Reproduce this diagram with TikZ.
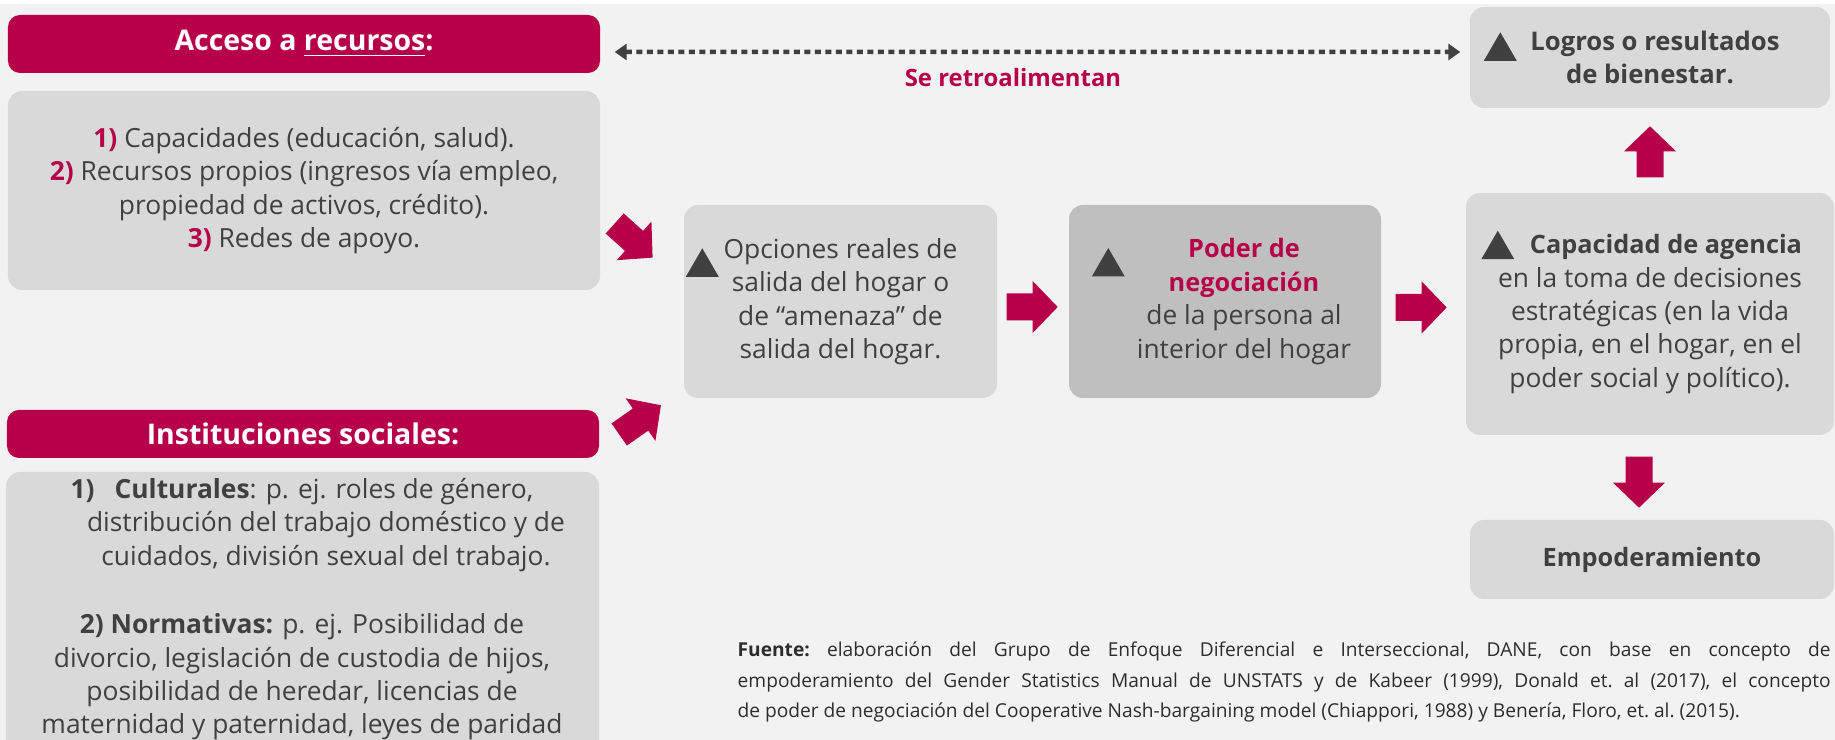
\documentclass[tikz,border=0pt]{standalone}
\usepackage{fontspec}
\setmainfont{Open Sans}
\usetikzlibrary{arrows.meta,shapes.geometric}

\definecolor{rojo}{HTML}{B7004A}
\definecolor{gris}{HTML}{D9D9D9}
\definecolor{grisosc}{HTML}{BFBFBF}
\definecolor{texto}{HTML}{404040}
\definecolor{fondo}{HTML}{F2F2F2}

\newcommand{\fuentecaja}{\fontsize{7.5}{9.5}\selectfont}
\newcommand{\nro}[1]{\textcolor{rojo}{\textbf{#1}}}
\newcommand{\negr}[1]{{\fontsize{7.2}{9.5}\selectfont\bfseries #1}}

\tikzset{
    blockarr/.pic={
        \fill[rojo] (0,-0.135) -- (0.26,-0.135) -- (0.26,-0.26) -- (0.51,0)
            -- (0.26,0.26) -- (0.26,0.135) -- (0,0.135) -- cycle;
    }
}

\begin{document}
\begin{tikzpicture}[
    header/.style={fill=rojo, rounded corners=0.12cm, text=white, inner sep=0,
        font=\bfseries\fontsize{8.1}{10}\selectfont, minimum width=5.92cm},
    caja/.style={fill=gris, rounded corners=0.14cm, text=texto, inner sep=0,
        font=\fuentecaja, align=center},
    cuerpo/.style={text=texto, inner sep=0, font=\fuentecaja, align=center},
    tri/.style={regular polygon, regular polygon sides=3, fill=texto,
        minimum size=0.38cm, inner sep=0},
    retro/.style={draw=texto, line width=0.045cm, dash pattern=on 0.06cm off 0.045cm,
        {Triangle[length=0.12cm,width=0.16cm]}-{Triangle[length=0.12cm,width=0.16cm]}}
]
    \useasboundingbox (0,0) rectangle (18.35,-7.40);
    \clip (0,0) rectangle (18.35,-7.40);
    \fill[fondo] (0,0) rectangle (18.35,-7.40);
    \fill[white] (0,0) rectangle (18.35,-0.04);

    % left column
    \node[header, minimum height=0.58cm] (acceso) at (3.04,-0.44) {Acceso a \underline{recursos}:};
    \node[caja, minimum width=5.92cm, minimum height=1.99cm] (recursos) at (3.04,-1.905)
        {\nro{1)} Capacidades (educación, salud).\\ \nro{2)} Recursos propios (ingresos vía empleo,\\
         propiedad de activos, crédito).\\ \nro{3)} Redes de apoyo.};

    \node[header, minimum height=0.48cm] (instituciones) at (3.03,-4.34) {Instituciones sociales:};
    \node[caja, minimum width=5.93cm, minimum height=3.1cm] (normas) at (3.025,-6.27) {};
    \node[cuerpo] (cultural) at (3.26,-5.25)
        {\textbf{1)\hspace{0.2cm}Culturales}: p. ej. roles de género,\rule{0.48cm}{0pt}\\
         distribución del trabajo doméstico y de\\ cuidados, división sexual del trabajo.};
    \node[cuerpo] (normativa) at (3.02,-6.77)
        {\textbf{2) Normativas:} p. ej. Posibilidad de\\ divorcio, legislación de custodia de hijos,\\
         posibilidad de heredar, licencias de\\ maternidad y paternidad, leyes de paridad};

    % middle
    \node[caja, minimum width=3.13cm, minimum height=1.93cm] (opciones) at (8.405,-3.015)
        {Opciones reales de\\ salida del hogar o\\ de “amenaza” de\\ salida del hogar.};
    \node[tri] (topc) at ([shift={(0.19,0.342)}]opciones.west) {};

    \node[caja, fill=grisosc, minimum width=3.12cm, minimum height=1.93cm] (poder) at (12.25,-3.015) {};
    \node[cuerpo] (podertxt) at (12.44,-3.015)
        {\textcolor{rojo}{\negr{Poder de}}\\ \textcolor{rojo}{\negr{negociación}}\\ de la persona al\\ interior del hogar};
    \node[tri] (tpod) at ([shift={(0.40,0.345)}]poder.west) {};

    % right column
    \node[caja, minimum width=3.6cm, minimum height=1.01cm, font=\bfseries\fontsize{7.3}{9.2}\selectfont]
        (logros) at (16.5,-0.575) {\hspace*{0.1cm}Logros o resultados\\ de bienestar.};
    \node[tri] (tlog) at ([shift={(0.31,0.062)}]logros.west) {};

    \node[caja, minimum width=3.68cm, minimum height=2.42cm] (agencia) at (16.5,-3.14)
        {\hspace*{0.32cm}\negr{Capacidad de agencia}\\ en la toma de decisiones\\ estratégicas (en la vida\\
         propia, en el hogar, en el\\ poder social y político).};
    \node[tri] (tage) at ([shift={(0.325,0.643)}]agencia.west) {};

    \node[caja, minimum width=3.64cm, minimum height=0.79cm] (empo) at (16.52,-5.595) {\negr{Empoderamiento}};

    % block arrows
    \path ([shift={(0.14,-0.33)}]recursos.east) pic[rotate=-42] {blockarr};
    \path ([shift={(0.195,-0.005)}]instituciones.east) pic[rotate=35] {blockarr};
    \path ([shift={(0.09,-0.055)}]opciones.east) pic {blockarr};
    \path ([shift={(0.14,-0.06)}]poder.east) pic {blockarr};
    \path ([yshift=0.15cm]agencia.north) pic[rotate=90] {blockarr};
    \path ([shift={(-0.11,-0.21)}]agencia.south) pic[rotate=-90] {blockarr};

    % feedback
    \draw[retro] ([shift={(0.14,-0.08)}]acceso.east) -- ([shift={(-0.09,0.055)}]logros.west)
        node[pos=0.471, yshift=-0.26cm, text=rojo, font=\bfseries\fontsize{6.8}{8}\selectfont] (retrolabel) {Se retroalimentan};

    \node[anchor=west, text width=10.93cm, align=justify, inner sep=0, text=texto!70!black,
        font=\fontsize{5.45}{8.8}\selectfont] (fuente) at (7.37,-6.82)
        {\frenchspacing\hyphenpenalty=10000\relax
         \textbf{Fuente:} elaboración del Grupo de Enfoque Diferencial e Interseccional, DANE, con base en concepto de\linebreak
         empoderamiento del Gender Statistics Manual de UNSTATS y de Kabeer (1999), Donald et. al (2017), el concepto\linebreak
         de poder de negociación del Cooperative Nash-bargaining model (Chiappori, 1988) y Benería, Floro, et. al. (2015).};
\end{tikzpicture}
\end{document}
